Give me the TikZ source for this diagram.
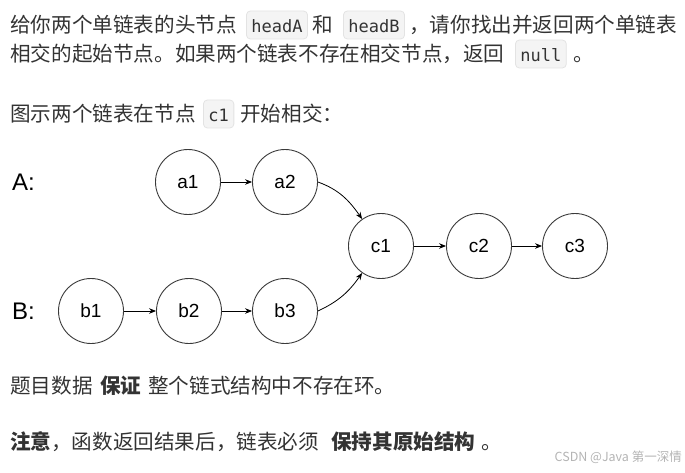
\documentclass[tikz,border=0pt]{standalone}
\usepackage{fontspec}
\setmainfont{Liberation Sans}
\newfontfamily\cjk{Noto Sans CJK SC}
\newfontfamily\monof{DejaVu Sans Mono}
\usetikzlibrary{arrows.meta}
\definecolor{txt}{HTML}{333333}
\definecolor{codebg}{HTML}{F4F4F4}
\definecolor{codeborder}{HTML}{E3E3E3}
\definecolor{circ}{HTML}{3A3A3A}
\definecolor{wmc}{HTML}{B4B4B4}
\begin{document}
\begin{tikzpicture}[x=1pt,y=1pt,
  body/.style={anchor=base west, inner sep=0pt, text=txt, font=\cjk\fontsize{20.6}{24}\selectfont},
  bodyb/.style={body, font=\cjk\bfseries\fontsize{20.6}{24}\selectfont},
  codebox/.style={anchor=base west, inner xsep=5pt, inner ysep=0pt, text height=22pt, text depth=6pt,
    fill=codebg, draw=codeborder, line width=0.8pt, rounded corners=4pt, text=txt,
    font=\monof\fontsize{17}{17}\selectfont},
  ll/.style={circle, draw=circ, line width=0.9pt, minimum size=65pt, inner sep=0pt,
    font=\fontsize{19}{20}\selectfont},
  arr/.style={-{Stealth[length=7pt,width=5.5pt]}, line width=0.8pt},
  big/.style={anchor=west, inner sep=0pt, font=\fontsize{24}{24}\selectfont}]
\useasboundingbox (0,0) rectangle (685,472);

% text lines
\node[body] (l1a) at (10,439) {给你两个单链表的头节点};
\node[codebox] (l1b) at (246,439) {headA};
\node[body] (l1c) at (312,439) {和};
\node[codebox] (l1d) at (343,439) {headB};
\node[body] (l1e) at (409,439) {，请你找出并返回两个单链表};

\node[body] (l2a) at (10,410) {相交的起始节点。如果两个链表不存在相交节点，返回};
\node[codebox] (l2b) at (515,410) {null};
\node[body] (l2c) at (573,410) {。};

\node[body] (l3a) at (10,350) {图示两个链表在节点};
\node[codebox] (l3b) at (203,350) {c1};
\node[body] (l3c) at (240,350) {开始相交：};

\node[body] (l4a) at (10,79) {题目数据};
\node[bodyb] (l4b) at (100,79) {保证};
\node[body] (l4c) at (148,79) {整个链式结构中不存在环。};

\node[bodyb] (l5a) at (10,23) {注意};
\node[body] (l5b) at (51,23) {，函数返回结果后，链表必须};
\node[bodyb] (l5c) at (331,23) {保持其原始结构};
\node[body] (l5d) at (481,23) {。};

\node[anchor=east, inner sep=0pt, text=wmc, font=\cjk\fontsize{12.5}{13}\selectfont] (wm) at (682,15) {CSDN @Java 第一深情};

% labels
\node[big] (la) at (12,290) {A:};
\node[big] (lb) at (12,161) {B:};

% nodes
\node[ll] (a1) at (188,290) {a1};
\node[ll] (a2) at (285,290) {a2};
\node[ll] (c1) at (381,226) {c1};
\node[ll] (c2) at (479,226) {c2};
\node[ll] (c3) at (575,226) {c3};
\node[ll] (b1) at (91,161) {b1};
\node[ll] (b2) at (189,161) {b2};
\node[ll] (b3) at (285,161) {b3};

% connectors
\draw[arr] (a1) -- (a2);
\draw[arr] (b1) -- (b2);
\draw[arr] (b2) -- (b3);
\draw[arr] (c1) -- (c2);
\draw[arr] (c2) -- (c3);
\draw[arr] (a2.east) to[out=-20,in=125] (c1);
\draw[arr] (b3.east) to[out=25,in=235] (c1);
\end{tikzpicture}
\end{document}
